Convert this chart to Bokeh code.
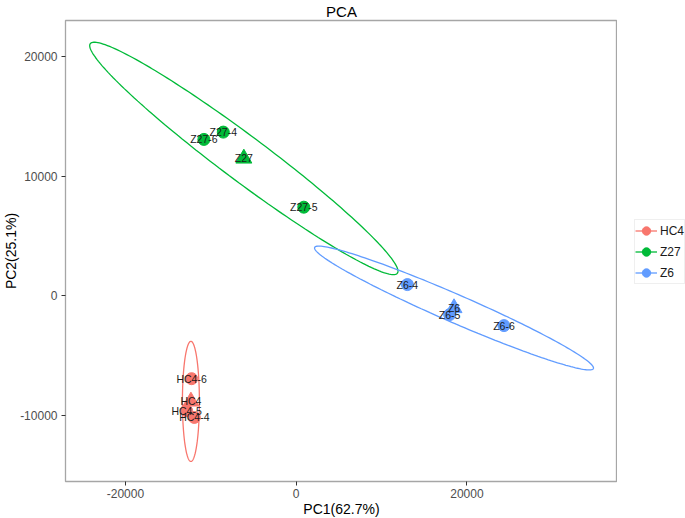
import numpy as np
from bokeh.plotting import figure
from bokeh.layouts import row
from bokeh.models import Range1d, FixedTicker, Legend, LegendItem, ColumnDataSource
from bokeh.embed import file_html
from bokeh.resources import INLINE
from bokeh.core.properties import value

# ---------------- data ----------------
groups = ["HC4", "Z27", "Z6"]
group_colors = ["#F8766D", "#00BA38", "#619CFF"]

sample_names = ["HC4-4", "HC4-5", "HC4-6", "Z27-4", "Z27-5", "Z27-6", "Z6-4", "Z6-5", "Z6-6"]
sample_group = ["HC4", "HC4", "HC4", "Z27", "Z27", "Z27", "Z6", "Z6", "Z6"]
sample_pc1 = [-11934, -12835, -12250, -8541, 889, -10811, 13022, 17971, 24336]
sample_pc2 = [-10142, -9582, -6909, 13668, 7402, 13058, 944, -1562, -2481]

centroid_pc1 = [-12332, -6131, 18486]
centroid_pc2 = [-8805, 11470, -1011]

# ellipse semi-axis vectors (data units)
ell_major_x = [0, 17983, 16322]
ell_major_y = [5013, -9582, -5054]
ell_minor_x = [994, 1591, 652]
ell_minor_y = [0, 1500, 1074]

x_ticks = [-20000, 0, 20000]
y_ticks = [-10000, 0, 10000, 20000]

x_lo, x_hi = -27020, 37632
y_lo, y_hi = -15489, 22982

FONT = "Liberation Sans"

# ---------------- layout ----------------
BL, BT, BB = 65, 19, 38
FW, FH = 552, 461
LEG_W = 68

p = figure(frame_width=FW, frame_height=FH, output_backend="svg", toolbar_location=None,
           x_range=Range1d(x_lo, x_hi), y_range=Range1d(y_lo, y_hi),
           min_border_left=BL, min_border_right=0, min_border_top=BT, min_border_bottom=BB,
           title="PCA")
p.background_fill_color = "white"
p.border_fill_color = "white"
p.outline_line_color = "#a6a6a6"
p.outline_line_width = 1.3
p.xgrid.visible = False
p.ygrid.visible = False

p.title.align = "center"
p.title.text_font = FONT
p.title.text_font_size = "15px"
p.title.text_font_style = "normal"
p.title.text_color = "#000000"
p.title.standoff = 1

for ax, ticks in ((p.xaxis, x_ticks), (p.yaxis, y_ticks)):
    ax.ticker = FixedTicker(ticks=ticks)
    ax.major_label_overrides = {t: str(t) for t in ticks}
    ax.major_label_text_font = FONT
    ax.major_label_text_font_size = "12px"
    ax.major_label_text_color = "#4d4d4d"
    ax.major_tick_out = 4
    ax.major_tick_in = 0
    ax.major_tick_line_color = "#333333"
    ax.minor_tick_line_color = None
    ax.axis_line_color = None
    ax.axis_label_text_font = FONT
    ax.axis_label_text_font_size = "14px"
    ax.axis_label_text_font_style = "normal"
    ax.axis_label_text_color = "#000000"
p.xaxis.major_label_standoff = 3
p.yaxis.major_label_standoff = 4
p.xaxis.axis_label = "PC1(62.7%)"
p.yaxis.axis_label = "PC2(25.1%)"
p.xaxis.axis_label_standoff = 0
p.yaxis.axis_label_standoff = -2

# legend figure (separate narrow canvas to the right)
lf = figure(width=LEG_W, height=BT + FH + BB + 2, output_backend="svg", toolbar_location=None,
            x_range=Range1d(0, 1), y_range=Range1d(0, 1), min_border=0)
lf.axis.visible = False
lf.grid.visible = False
lf.outline_line_color = None
lf.background_fill_color = "white"
lf.border_fill_color = "white"

legend_items = []
t = np.linspace(0, 2 * np.pi, 200)
for i, g in enumerate(groups):
    c = group_colors[i]
    ex = centroid_pc1[i] + ell_major_x[i] * np.cos(t) + ell_minor_x[i] * np.sin(t)
    ey = centroid_pc2[i] + ell_major_y[i] * np.cos(t) + ell_minor_y[i] * np.sin(t)
    p.line(ex, ey, line_color=c, line_width=1.3)
    idx = [k for k, sg in enumerate(sample_group) if sg == g]
    src = ColumnDataSource(dict(x=[sample_pc1[k] for k in idx], y=[sample_pc2[k] for k in idx]))
    p.scatter("x", "y", source=src, marker="circle", size=12, fill_color=c, line_color=c)
    p.scatter([centroid_pc1[i]], [centroid_pc2[i]], marker="triangle", size=16,
              fill_color=c, line_color=c)
    # legend key renderers (styles only; NaN data draws nothing on the canvas)
    kl = lf.line([np.nan], [np.nan], line_color=c, line_width=1.3)
    ks = lf.scatter([np.nan], [np.nan], marker="circle", size=12, fill_color=c, line_color=c)
    legend_items.append(LegendItem(label=g, renderers=[kl, ks]))

# labels
p.text(sample_pc1, sample_pc2, text=sample_names, text_align="center", text_baseline="middle",
       text_font=value(FONT), text_font_size="10.5px", text_color="#1a1a1a")
p.text(centroid_pc1, centroid_pc2, text=groups, text_align="center", text_baseline="middle",
       text_font=value(FONT), text_font_size="10.5px", text_color="#1a1a1a")

legend = Legend(items=legend_items, location=(17, 198), padding=0, spacing=0, margin=0,
                glyph_width=22, glyph_height=21, label_height=21, label_standoff=3,
                label_text_font=FONT, label_text_font_size="12px", label_text_color="#1a1a1a",
                border_line_color="#e0e0e0", border_line_width=1, background_fill_alpha=0)
lf.add_layout(legend)

layout = row(p, lf, spacing=0)
open("out.html", "w").write(file_html(layout, INLINE))
